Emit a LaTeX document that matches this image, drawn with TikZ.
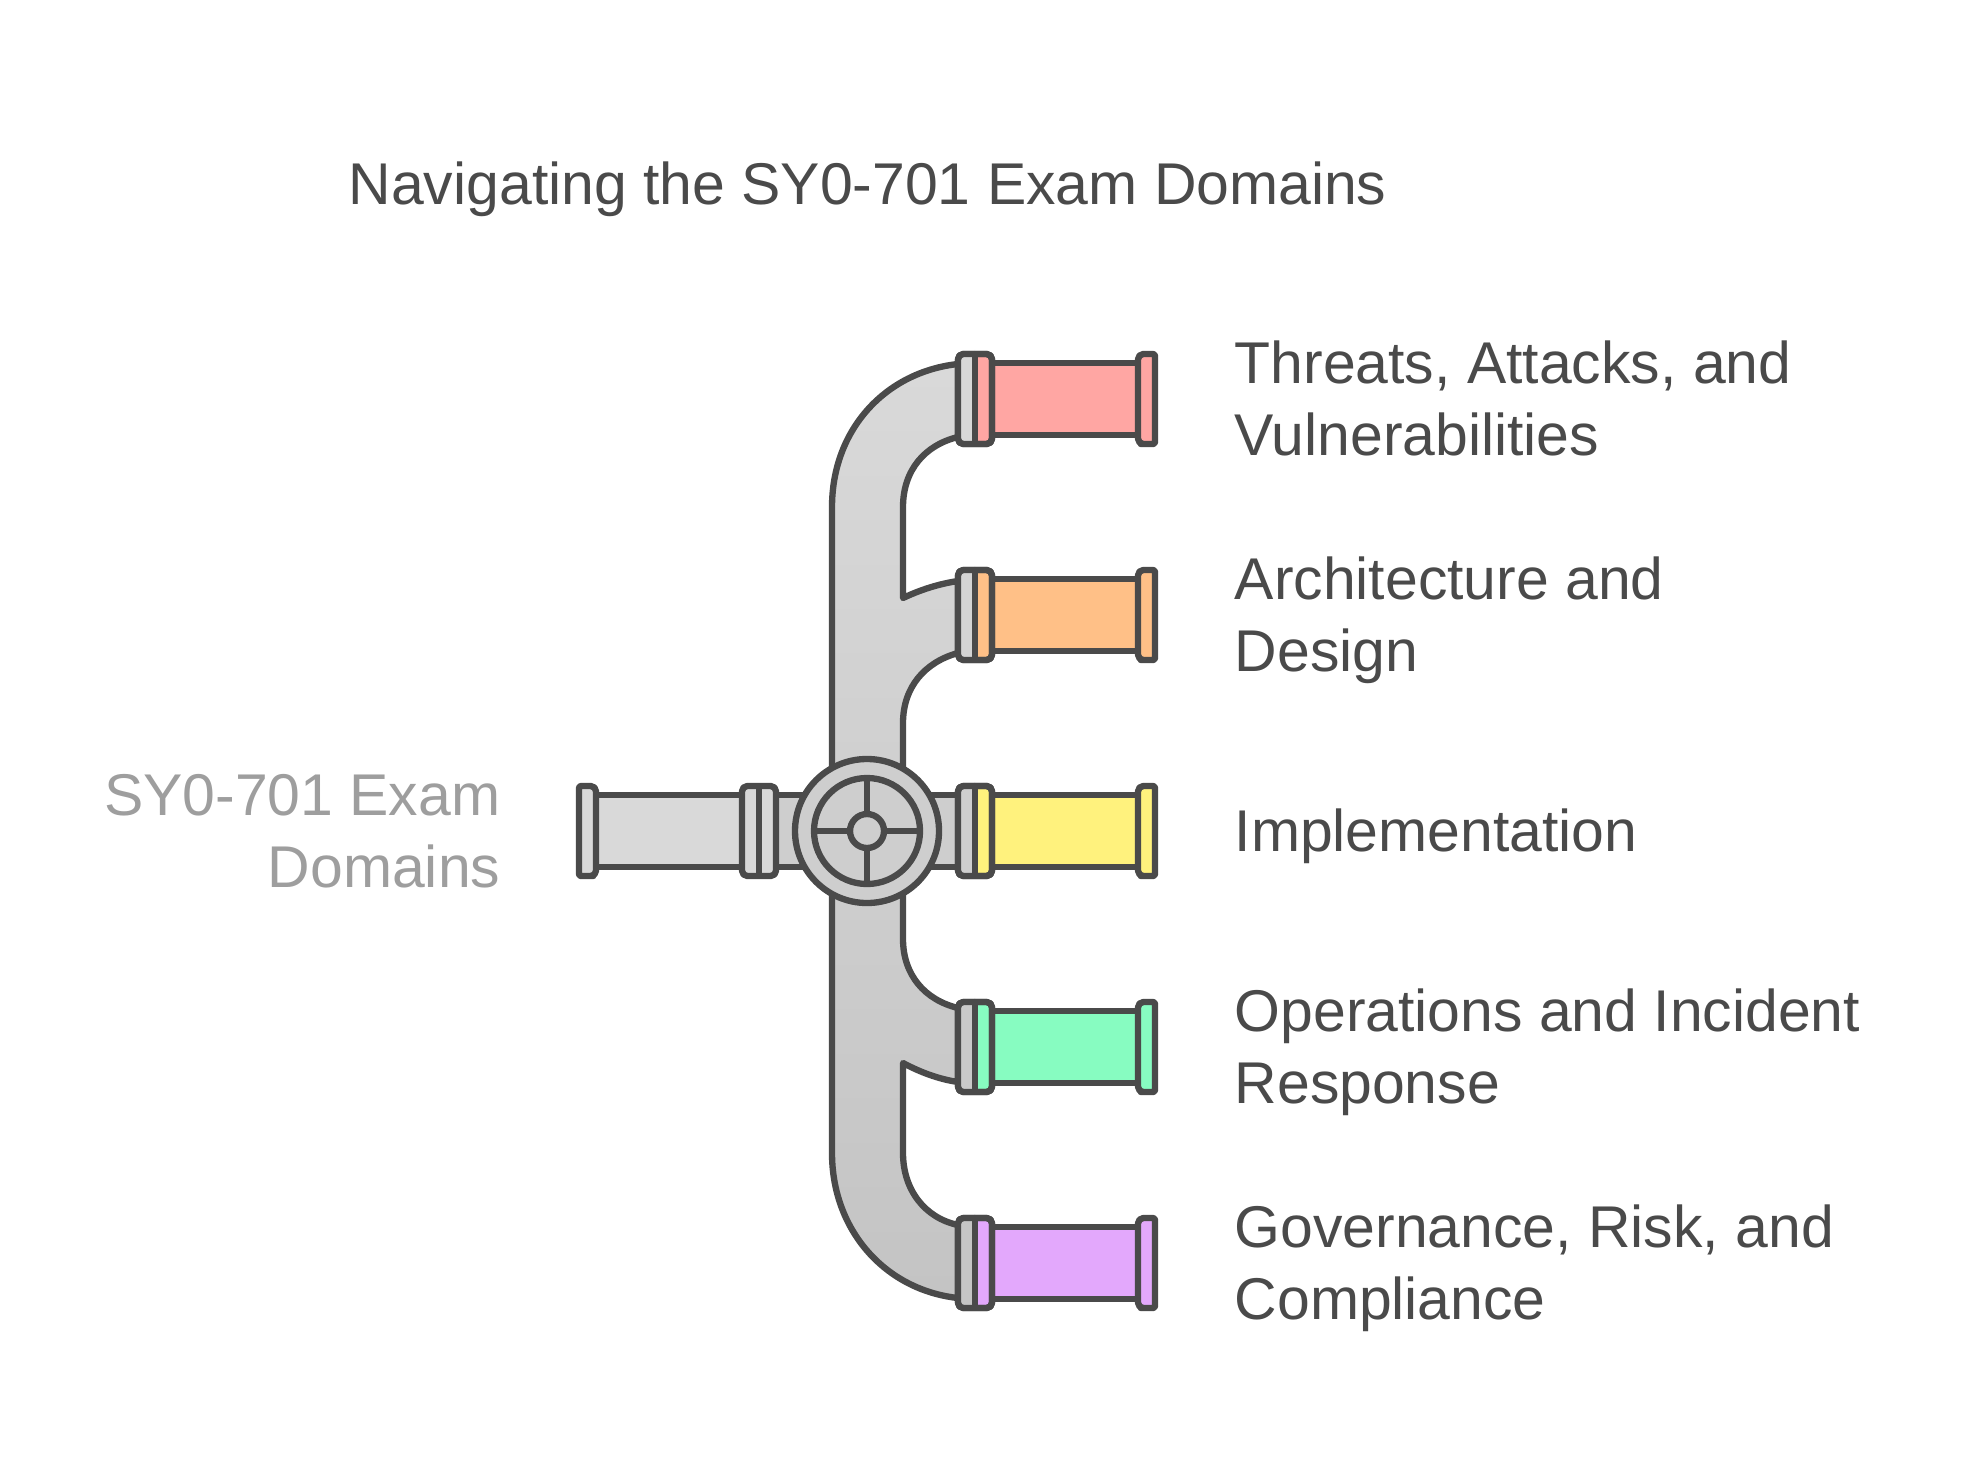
\documentclass[tikz,border=0pt]{standalone}
\usepackage{fontspec}
\setmainfont{Liberation Sans}
\usepackage{xcolor}
\usetikzlibrary{calc}
\definecolor{pipeline}{HTML}{4A4A4A}
\definecolor{pipetop}{HTML}{D9D9D9}
\definecolor{pipebottom}{HTML}{C4C4C4}
\definecolor{threatred}{HTML}{FFA6A3}
\definecolor{designorange}{HTML}{FFC087}
\definecolor{implyellow}{HTML}{FFF27D}
\definecolor{opsgreen}{HTML}{87FCC1}
\definecolor{govpurple}{HTML}{E3A8FC}
\definecolor{labelgrey}{HTML}{9E9E9E}
\begin{document}
\begin{tikzpicture}[x=.01cm,y=-.01cm,
		pipe/.style={draw=pipeline,line width=1.8pt,line join=round},
		label/.style={text=pipeline,font=\fontsize{16.75}{20.5}\selectfont,align=left,anchor=west,inner sep=0pt},
		title/.style={text=pipeline,font=\fontsize{16.75}{20.5}\selectfont,anchor=west,inner sep=0pt}]
	\useasboundingbox (0,0) rectangle (1986,1482);
	\node[title] (title) at (348,190) {Navigating the SY0-701 Exam Domains\strut};
	\node[label,text=labelgrey,align=right,anchor=east] (source) at (501,837) {SY0-701 Exam\strut\\Domains\strut};
	\node[label] (threats) at (1234,405) {Threats, Attacks, and\strut\\Vulnerabilities\strut};
	\node[label] (design) at (1234,621) {Architecture and\strut\\Design\strut};
	\node[label] (impl) at (1234,837) {Implementation\strut};
	\node[label] (ops) at (1234,1053) {Operations and Incident\strut\\Response\strut};
	\node[label] (gov) at (1234,1269) {Governance, Risk, and\strut\\Compliance\strut};
	\draw[pipe,top color=pipetop,bottom color=pipebottom]
		(958,364) .. controls (885,372) and (832,430) .. (832,507) -- (832,1153)
		.. controls (832,1230) and (885,1290) .. (958,1298) -- (958,1225)
		.. controls (925,1218) and (903,1190) .. (903,1153) -- (903,1063)
		.. controls (920,1072) and (938,1079) .. (958,1082) -- (958,1008)
		.. controls (925,1000) and (903,975) .. (903,939) -- (903,723)
		.. controls (903,687) and (925,662) .. (958,653) -- (958,581)
		.. controls (938,584) and (920,590) .. (903,598) -- (903,507)
		.. controls (903,470) and (925,445) .. (958,437) -- cycle;
	\draw[pipe,fill=pipetop] (596,795) rectangle (742,867);
	\draw[pipe,fill=pipetop!50!pipebottom] (776,795) rectangle (958,867);
	\draw[pipe,fill=pipetop,rounded corners=1.5pt] (742,786) rectangle (776,876);
	\draw[pipe] (759,786) -- (759,876);
	\draw[pipe,fill=pipetop] (579,831) [rounded corners=.6pt] |- (588,786) [rounded corners=1.5pt] -| (596,831) |- (588,876) [rounded corners=.6pt] -| cycle;
	\foreach \rowy/\rowcol/\rowmix in {399/threatred/97,615/designorange/75,831/implyellow/50,1047/opsgreen/25,1263/govpurple/5} {
		\draw[pipe,fill=\rowcol] (992,\rowy-36) rectangle (1138,\rowy+36);
		\draw[pipe,fill=\rowcol,rounded corners=1.5pt] (958,\rowy-45) rectangle (992,\rowy+45);
		\fill[pipetop!\rowmix!pipebottom,rounded corners=1.2pt] (975,\rowy-45) -| (958,\rowy+45) -| cycle;
		\draw[pipe,rounded corners=1.5pt] (958,\rowy-45) rectangle (992,\rowy+45);
		\draw[pipe] (975,\rowy-45) -- (975,\rowy+45);
		\draw[pipe,fill=\rowcol] (1146,\rowy) [rounded corners=.6pt] (1146,\rowy-45) [rounded corners=1.5pt] -| (1138,\rowy) |- (1146,\rowy+45) [rounded corners=.6pt] -| (1155,\rowy-45) -- cycle;
	}
	\draw[pipe,fill=pipetop!50!pipebottom] (867,831) circle [radius=72];
	\draw[pipe] (867,831) circle [radius=53];
	\foreach \spoke in {0,90,180,270} {
		\draw[pipe] ($(867,831)+(\spoke:17)$) -- ($(867,831)+(\spoke:53)$);
	}
	\draw[pipe,fill=pipetop!50!pipebottom] (867,831) circle [radius=17];
\end{tikzpicture}
\end{document}
